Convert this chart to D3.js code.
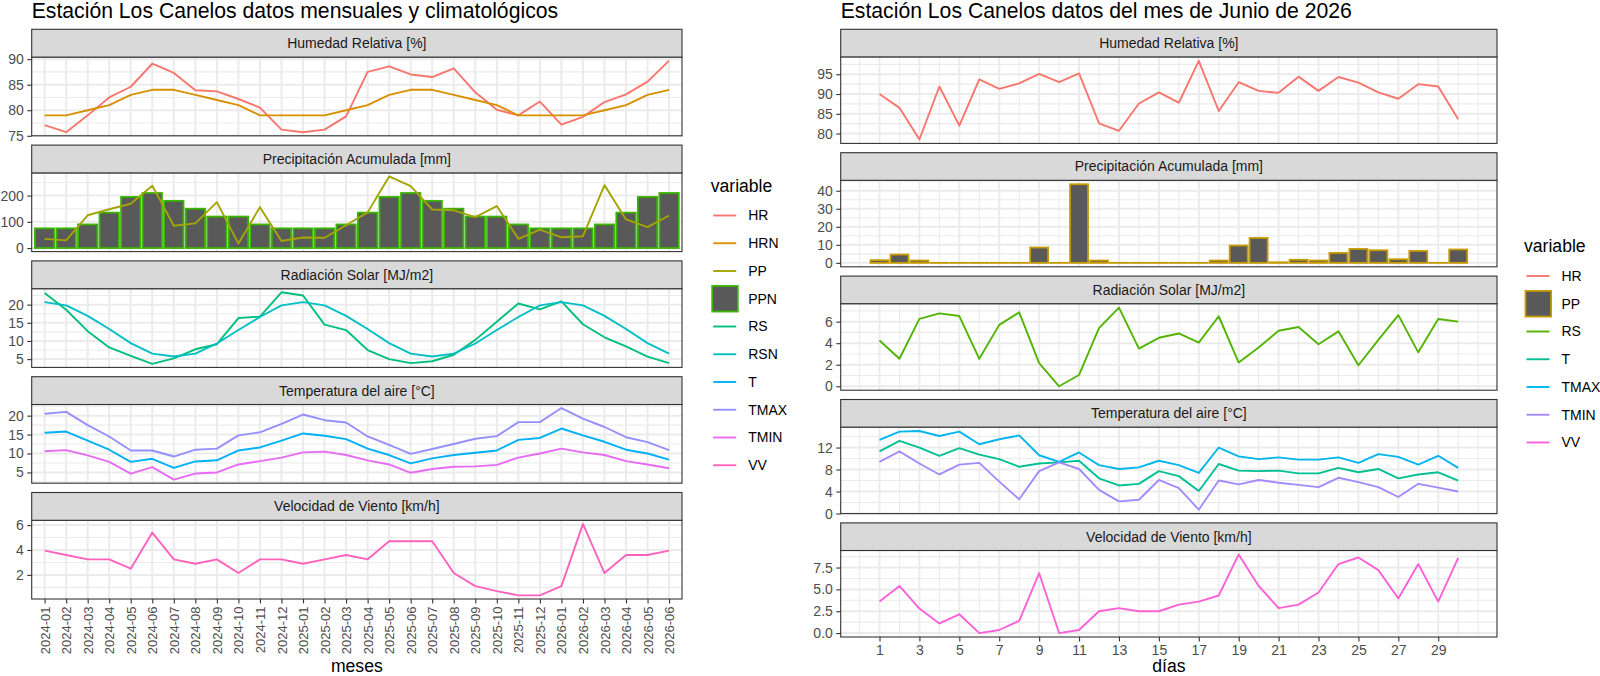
<!DOCTYPE html>
<html>
<head>
<meta charset="utf-8">
<script src="https://cdn.jsdelivr.net/npm/d3@7"></script>
<style>
  body { margin: 0; background: #fff; }
  svg { display: block; font-family: "Liberation Sans", Arial, Helvetica, sans-serif; }
</style>
</head>
<body>
<svg id="chart" width="1600" height="676"></svg>
<script>
// ---- datos mensuales (2024-01 .. 2026-06) ----
const meses = ['2024-01','2024-02','2024-03','2024-04','2024-05','2024-06','2024-07','2024-08','2024-09','2024-10','2024-11','2024-12',
               '2025-01','2025-02','2025-03','2025-04','2025-05','2025-06','2025-07','2025-08','2025-09','2025-10','2025-11','2025-12',
               '2026-01','2026-02','2026-03','2026-04','2026-05','2026-06'];
const hr_mensual   = [77.1, 75.7, 79.0, 82.5, 84.6, 89.1, 87.3, 83.9, 83.7, 82.2, 80.5, 76.2, 75.7, 76.2, 78.8, 87.5, 88.6, 87.0, 86.5, 88.2, 83.5, 80.1, 79.0, 81.7, 77.2, 78.7, 81.6, 83.1, 85.6, 89.7];
const hrn_mensual  = [79, 79, 80, 81, 83, 84, 84, 83, 82, 81, 79, 79, 79, 79, 80, 81, 83, 84, 84, 83, 82, 81, 79, 79, 79, 79, 80, 81, 83, 84];
const pp_mensual   = [35, 29, 125, 148, 169, 238, 85, 94, 175, 17, 156, 27, 40, 39, 87, 136, 273, 236, 147, 144, 118, 160, 35, 70, 41, 45, 240, 109, 80, 124];
const ppn_mensual  = [75, 75, 90, 135, 195, 210, 180, 150, 120, 120, 90, 75, 75, 75, 90, 135, 195, 210, 180, 150, 120, 120, 90, 75, 75, 75, 90, 135, 195, 210];
const rs_mensual   = [23.2, 18.6, 12.7, 8.2, 5.9, 3.7, 5.2, 7.7, 9.1, 16.3, 16.7, 23.4, 22.5, 14.5, 13.0, 7.5, 5.0, 3.9, 4.4, 6.2, 10.3, 15.3, 20.3, 18.7, 20.9, 14.6, 11.0, 8.5, 5.7, 3.9];
const rsn_mensual  = [20.7, 19.8, 16.9, 13.3, 9.4, 6.5, 5.7, 6.5, 9.3, 13.0, 16.6, 19.8, 20.7, 19.8, 16.9, 13.3, 9.4, 6.5, 5.7, 6.5, 9.3, 13.0, 16.6, 19.8, 20.7, 19.8, 16.9, 13.3, 9.4, 6.5];
const t_mensual    = [15.5, 15.8, 13.4, 11.0, 7.8, 8.6, 6.2, 7.9, 8.2, 10.8, 11.6, 13.4, 15.3, 14.7, 13.8, 11.3, 9.6, 7.4, 8.7, 9.6, 10.2, 10.8, 13.6, 14.1, 16.6, 14.8, 13.1, 11.0, 10.0, 8.4];
const tmax_mensual = [20.5, 21.0, 17.5, 14.5, 10.8, 10.8, 9.2, 11.0, 11.3, 14.8, 15.6, 17.8, 20.3, 18.8, 18.2, 14.5, 12.3, 9.9, 11.2, 12.5, 13.9, 14.6, 18.3, 18.3, 22.0, 19.2, 17.0, 14.3, 13.0, 10.9];
const tmin_mensual = [10.6, 10.9, 9.5, 7.8, 4.7, 6.4, 3.1, 4.7, 5.0, 7.1, 8.0, 8.9, 10.3, 10.5, 9.6, 8.2, 7.1, 4.9, 5.9, 6.5, 6.6, 7.0, 8.9, 10.0, 11.3, 10.3, 9.6, 8.0, 7.1, 6.1];
const vv_mensual   = [3.95, 3.6, 3.25, 3.25, 2.5, 5.4, 3.25, 2.9, 3.25, 2.15, 3.25, 3.25, 2.9, 3.25, 3.6, 3.25, 4.7, 4.7, 4.7, 2.15, 1.1, 0.7, 0.35, 0.35, 1.1, 6.1, 2.15, 3.6, 3.6, 3.95];

// ---- datos diarios (junio 2026) ----
const dias = [1, 2, 3, 4, 5, 6, 7, 8, 9, 10, 11, 12, 13, 14, 15, 16, 17, 18, 19, 20, 21, 22, 23, 24, 25, 26, 27, 28, 29, 30];
const hr_diario   = [90.0, 86.5, 78.5, 91.9, 82.0, 93.7, 91.3, 92.7, 95.1, 93.0, 95.2, 82.6, 80.7, 87.6, 90.4, 87.8, 98.4, 85.7, 93.0, 90.8, 90.3, 94.4, 90.8, 94.3, 92.9, 90.4, 88.8, 92.5, 91.9, 83.6];
const pp_diario   = [1.5, 4.6, 1.3, 0, 0, 0, 0, 0, 8.5, 0, 43.6, 1.3, 0, 0, 0, 0, 0, 1.3, 9.6, 13.8, 0.3, 1.7, 1.3, 5.5, 7.7, 7.0, 2.0, 6.6, 0, 7.4];
const rs_diario   = [4.25, 2.55, 6.25, 6.77, 6.52, 2.55, 5.7, 6.86, 2.15, 0.0, 1.05, 5.4, 7.3, 3.5, 4.5, 4.9, 4.05, 6.5, 2.2, 3.6, 5.15, 5.5, 3.9, 5.1, 1.95, 4.3, 6.6, 3.15, 6.25, 6.0];
const t_diario    = [11.3, 13.2, 12.0, 10.5, 11.9, 10.7, 9.9, 8.5, 9.1, 9.3, 9.6, 6.4, 5.1, 5.4, 7.7, 6.8, 4.1, 9.0, 7.8, 7.7, 7.8, 7.3, 7.3, 8.3, 7.5, 8.1, 6.4, 7.1, 7.5, 6.0];
const tmax_diario = [13.4, 14.9, 15.0, 14.1, 14.9, 12.6, 13.5, 14.2, 10.6, 9.4, 11.1, 8.8, 8.1, 8.4, 9.6, 8.8, 7.4, 12.0, 10.4, 9.9, 10.2, 9.8, 9.8, 10.2, 9.2, 10.8, 10.3, 8.9, 10.5, 8.3];
const tmin_diario = [9.4, 11.3, 9.1, 7.1, 8.9, 9.2, 5.8, 2.6, 7.7, 9.3, 8.1, 4.3, 2.2, 2.5, 6.1, 4.6, 0.7, 6.0, 5.3, 6.1, 5.6, 5.2, 4.8, 6.5, 5.7, 4.8, 3.0, 5.4, 4.7, 4.0];
const vv_diario   = [3.6, 5.4, 2.8, 1.1, 2.15, 0.0, 0.35, 1.4, 6.85, 0.0, 0.35, 2.5, 2.85, 2.5, 2.5, 3.25, 3.6, 4.3, 9.0, 5.4, 2.85, 3.25, 4.65, 7.9, 8.65, 7.2, 3.95, 7.9, 3.6, 8.6];

// ---- ticks ----
const ticks_hr_m = [75, 80, 85, 90];
const ticks_pp_m = [0, 100, 200];
const ticks_rs_m = [5, 10, 15, 20];
const ticks_t_m  = [5, 10, 15, 20];
const ticks_vv_m = [2, 4, 6];
const ticks_hr_d = [80, 85, 90, 95];
const ticks_pp_d = [0, 10, 20, 30, 40];
const ticks_rs_d = [0, 2, 4, 6];
const ticks_t_d  = [0, 4, 8, 12];
const ticks_vv_d = [0, 2.5, 5, 7.5];
const ticks_dias = [1, 3, 5, 7, 9, 11, 13, 15, 17, 19, 21, 23, 25, 27, 29];

// colores ggplot (hue)
const colMensual = { HR: '#F8766D', HRN: '#D89000', PP: '#A3A500', PPN: '#39B600', RS: '#00BF7D',
                     RSN: '#00BFC4', T: '#00B0F6', TMAX: '#9590FF', TMIN: '#E76BF3', VV: '#FF62BC' };
const colDiario  = { HR: '#F8766D', PP: '#C49A00', RS: '#53B400', T: '#00C094',
                     TMAX: '#00B6EB', TMIN: '#A58AFF', VV: '#FB61D7' };

const svg = d3.select('#chart');
const GRID = '#EBEBEB', BORDE = '#333333', BARRA = '#595959';

function midpoints(ticks, lo, hi) {
    const step = ticks[1] - ticks[0];
    const ext = [ticks[0] - step, ...ticks, ticks[ticks.length - 1] + step];
    const out = [];
    for (let i = 0; i < ext.length - 1; i++) out.push((ext[i] + ext[i + 1]) / 2);
    ext.forEach(v => { if (!ticks.includes(v)) out.push(v); });
    return out.filter(v => v >= lo && v <= hi);
}

function drawFacets(cfg)
{
    const g = svg.append('g');
    const { x0, x1, x } = cfg;

    g.append('text')
        .attr('x', x0).attr('y', 18)
        .attr('font-size', 21.2).attr('fill', '#000')
        .text(cfg.titulo);

    cfg.paneles.forEach((p, i) => {
        const sTop = cfg.top + i * (cfg.strip + cfg.panel + cfg.gap);
        const pTop = sTop + cfg.strip, pBot = pTop + cfg.panel;

        let vals = [];
        p.lineas.forEach(s => vals = vals.concat(s[1]));
        if (p.barras) vals = vals.concat([0], p.barras[1]);
        const [lo, hi] = d3.extent(vals);
        const e = (hi - lo) * 0.05;
        const y = d3.scaleLinear().domain([lo - e, hi + e]).range([pBot, pTop]);

        // fondo + grilla
        const pg = g.append('g');
        pg.append('rect').attr('x', x0).attr('y', pTop).attr('width', x1 - x0).attr('height', cfg.panel).attr('fill', '#fff');
        midpoints(p.ticks, y.domain()[0], y.domain()[1]).forEach(v =>
            pg.append('line').attr('x1', x0).attr('x2', x1).attr('y1', y(v)).attr('y2', y(v))
              .attr('stroke', GRID).attr('stroke-width', 1.1));
        if (cfg.xMinor) cfg.xMinor.forEach(v =>
            pg.append('line').attr('x1', x(v)).attr('x2', x(v)).attr('y1', pTop).attr('y2', pBot)
              .attr('stroke', GRID).attr('stroke-width', 1.1));
        p.ticks.filter(v => v >= y.domain()[0] && v <= y.domain()[1]).forEach(v =>
            pg.append('line').attr('x1', x0).attr('x2', x1).attr('y1', y(v)).attr('y2', y(v))
              .attr('stroke', GRID).attr('stroke-width', 2));
        cfg.xMajor.forEach(v =>
            pg.append('line').attr('x1', x(v)).attr('x2', x(v)).attr('y1', pTop).attr('y2', pBot)
              .attr('stroke', GRID).attr('stroke-width', 2));

        // barras (las de valor 0 quedan como una raya del color del borde)
        if (p.barras) {
            const [nombre, serie] = p.barras;
            pg.selectAll(null).data(serie).join('rect')
                .attr('x', (d, j) => cfg.barX(j))
                .attr('width', cfg.barW)
                .attr('y', d => y(d))
                .attr('height', d => Math.max(y(0) - y(d), 0.01))
                .attr('fill', BARRA)
                .attr('stroke', cfg.col[nombre])
                .attr('stroke-width', 1.8);
        }

        // lineas
        p.lineas.forEach(([nombre, serie]) => {
            const line = d3.line().x((d, j) => x(cfg.cats[j])).y(d => y(d));
            pg.append('path').datum(serie)
                .attr('d', line)
                .attr('fill', 'none')
                .attr('stroke', cfg.col[nombre])
                .attr('stroke-width', 1.9)
                .attr('stroke-linejoin', 'round');
        });

        // borde panel
        g.append('rect').attr('x', x0).attr('y', pTop).attr('width', x1 - x0).attr('height', cfg.panel)
            .attr('fill', 'none').attr('stroke', BORDE).attr('stroke-width', 1.1);

        // strip
        g.append('rect').attr('x', x0).attr('y', sTop).attr('width', x1 - x0).attr('height', cfg.strip)
            .attr('fill', '#D9D9D9').attr('stroke', BORDE).attr('stroke-width', 1.1);
        g.append('text')
            .attr('x', (x0 + x1) / 2).attr('y', sTop + cfg.strip / 2)
            .attr('dy', '0.35em')
            .attr('text-anchor', 'middle')
            .attr('font-size', 14).attr('fill', '#1A1A1A')
            .text(p.titulo);

        // eje y
        const ay = g.append('g').attr('transform', `translate(${x0},0)`)
            .call(d3.axisLeft(y).tickValues(p.ticks).tickSize(4.4).tickPadding(3.5)
                  .tickFormat(p.fmt || d3.format('')));
        ay.select('.domain').remove();
        ay.attr('font-family', null).attr('font-size', null);
        ay.selectAll('line').attr('stroke', BORDE).attr('stroke-width', 1.1);
        ay.selectAll('text').attr('fill', '#4D4D4D').attr('font-size', 14);

        // eje x en el ultimo panel
        if (i === cfg.paneles.length - 1) {
            const ax = g.append('g').attr('transform', `translate(0,${pBot})`)
                .call(d3.axisBottom(x).tickValues(cfg.xTicks).tickSize(4.4).tickPadding(3.5));
            ax.select('.domain').remove();
            ax.attr('font-family', null).attr('font-size', null);
            ax.selectAll('line').attr('stroke', BORDE).attr('stroke-width', 1.1);
            const tt = ax.selectAll('text').attr('fill', '#4D4D4D').attr('font-size', cfg.xFont);
            if (cfg.rotar) {
                tt.attr('transform', 'rotate(-90)')
                  .attr('text-anchor', 'end')
                  .attr('x', -7.5).attr('y', 0).attr('dy', '0.35em');
            }
            g.append('text')
                .attr('x', (x0 + x1) / 2).attr('y', 671.5)
                .attr('text-anchor', 'middle')
                .attr('font-size', 17.6).attr('fill', '#000')
                .text(cfg.xTitulo);
        }
    });

    // leyenda
    const lg = g.append('g');
    lg.append('text').attr('x', cfg.leg.x).attr('y', cfg.leg.y)
        .attr('font-size', 17.6).attr('fill', '#000').text('variable');
    cfg.leg.items.forEach((k, j) => {
        const cy = cfg.leg.y + 24 + j * 27.75;
        const kx = cfg.leg.x + 0.5;
        if (cfg.leg.cajas.includes(k)) {
            lg.append('rect').attr('x', kx + 1).attr('y', cy - 12.8).attr('width', 25.6).attr('height', 25.6)
                .attr('fill', BARRA).attr('stroke', cfg.col[k]).attr('stroke-width', 1.8);
        } else {
            lg.append('line').attr('x1', kx + 2).attr('x2', kx + 25).attr('y1', cy).attr('y2', cy)
                .attr('stroke', cfg.col[k]).attr('stroke-width', 1.9);
        }
        lg.append('text').attr('x', kx + 37).attr('y', cy).attr('dy', '0.35em')
            .attr('font-size', 14).attr('fill', '#000').text(k);
    });
}

// ---- grafico mensual ----
const xm0 = 31.7, xm1 = 682;
const xMes = d3.scalePoint().domain(meses).range([xm0, xm1]).padding(0.6);
drawFacets({
    titulo: 'Estación Los Canelos datos mensuales y climatológicos',
    x0: xm0, x1: xm1, x: xMes, cats: meses,
    top: 29.3, strip: 27.8, panel: 78.7, gap: 9.3,
    xMajor: meses, xMinor: null, xTicks: meses, xFont: 13, rotar: true,
    barX: j => xMes(meses[j]) - 0.45 * xMes.step(), barW: 0.9 * xMes.step(),
    xTitulo: 'meses',
    col: colMensual,
    paneles: [
        { titulo: 'Humedad Relativa [%]', ticks: ticks_hr_m, lineas: [['HR', hr_mensual], ['HRN', hrn_mensual]] },
        { titulo: 'Precipitación Acumulada [mm]', ticks: ticks_pp_m, barras: ['PPN', ppn_mensual], lineas: [['PP', pp_mensual]] },
        { titulo: 'Radiación Solar [MJ/m2]', ticks: ticks_rs_m, lineas: [['RS', rs_mensual], ['RSN', rsn_mensual]] },
        { titulo: 'Temperatura del aire [°C]', ticks: ticks_t_m, lineas: [['T', t_mensual], ['TMAX', tmax_mensual], ['TMIN', tmin_mensual]] },
        { titulo: 'Velocidad de Viento [km/h]', ticks: ticks_vv_m, lineas: [['VV', vv_mensual]] }
    ],
    leg: { x: 710.7, y: 191.5, items: ['HR', 'HRN', 'PP', 'PPN', 'RS', 'RSN', 'T', 'TMAX', 'TMIN', 'VV'], cajas: ['PPN'] }
});

// ---- grafico diario ----
const xd0 = 840.7, xd1 = 1497;
const dLo = d3.min(dias) - 0.45, dHi = d3.max(dias) + 0.45, dE = (dHi - dLo) * 0.05;
const xDia = d3.scaleLinear().domain([dLo - dE, dHi + dE]).range([xd0, xd1]);
drawFacets({
    titulo: 'Estación Los Canelos datos del mes de Junio de 2026',
    x0: xd0, x1: xd1, x: xDia, cats: dias,
    top: 29.3, strip: 27.6, panel: 86.5, gap: 9.3,
    xMajor: ticks_dias, xMinor: midpoints(ticks_dias, xDia.domain()[0], xDia.domain()[1]),
    xTicks: ticks_dias, xFont: 14, rotar: false,
    barX: j => xDia(dias[j] - 0.45), barW: xDia(1.45) - xDia(0.55),
    xTitulo: 'días',
    col: colDiario,
    paneles: [
        { titulo: 'Humedad Relativa [%]', ticks: ticks_hr_d, lineas: [['HR', hr_diario]] },
        { titulo: 'Precipitación Acumulada [mm]', ticks: ticks_pp_d, barras: ['PP', pp_diario], lineas: [] },
        { titulo: 'Radiación Solar [MJ/m2]', ticks: ticks_rs_d, lineas: [['RS', rs_diario]] },
        { titulo: 'Temperatura del aire [°C]', ticks: ticks_t_d, lineas: [['T', t_diario], ['TMAX', tmax_diario], ['TMIN', tmin_diario]] },
        { titulo: 'Velocidad de Viento [km/h]', ticks: ticks_vv_d, fmt: d3.format('.1f'), lineas: [['VV', vv_diario]] }
    ],
    leg: { x: 1524, y: 252, items: ['HR', 'PP', 'RS', 'T', 'TMAX', 'TMIN', 'VV'], cajas: ['PP'] }
});
</script>
</body>
</html>
